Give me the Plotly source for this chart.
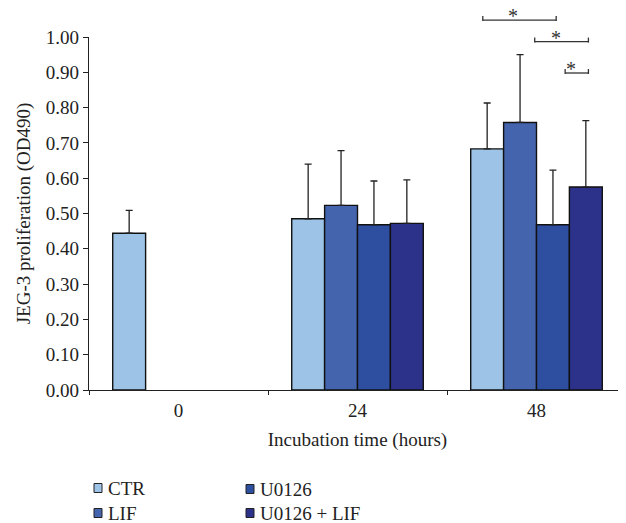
import plotly.graph_objects as go

categories = ["0", "24", "48"]
series_names = ["CTR", "LIF", "U0126", "U0126 + LIF"]
ctr = [0.444, 0.485, 0.683]
lif = [None, 0.523, 0.758]
u0126 = [None, 0.468, 0.468]
u0126_lif = [None, 0.472, 0.575]
ctr_err = [0.065, 0.155, 0.130]
lif_err = [0, 0.155, 0.192]
u0126_err = [0, 0.124, 0.155]
u0126_lif_err = [0, 0.123, 0.188]
colors = ["#9DC3E6", "#4464AE", "#2E4EA0", "#2C318A"]
y_ticks = [0.0, 0.1, 0.2, 0.3, 0.4, 0.5, 0.6, 0.7, 0.8, 0.9, 1.0]

FONT = "Liberation Serif"
FS = 19
OFF = 8  # page body margin
W, H = 626 - OFF, 523 - OFF
ML, MR, MT, MB = 89 - OFF, 0, 37 - OFF, 523 - 390
TXT = "#222222"

fig = go.Figure()
values = [ctr, lif, u0126, u0126_lif]
errs = [ctr_err, lif_err, u0126_err, u0126_lif_err]
for name, v, e, c in zip(series_names, values, errs, colors):
    fig.add_trace(go.Bar(
        x=categories, y=v, name=name,
        marker=dict(color=c, line=dict(color="#111111", width=1.4)),
        error_y=dict(type="data", symmetric=False, array=e,
                     arrayminus=[0] * len(e), color="#222222",
                     thickness=1.3, width=3.5),
        showlegend=False,
    ))

pw = W - ML - MR
ph = H - MT - MB


def px_x(px):
    # screenshot pixel -> paper x
    return (px - OFF - ML) / pw


def px_y(py):
    # screenshot pixel -> paper y
    return (H - MB - (py - OFF)) / ph


def cat_x(c):
    return (c + 0.5) / 3.0


shapes = []
annotations = []

# significance brackets (category units, y in data units == paper here)
brackets = [(1.70, 2.11, 1.048), (1.99, 2.29, 0.987), (2.16, 2.29, 0.898)]
for x0, x1, yy in brackets:
    a, b = cat_x(x0), cat_x(x1)
    shapes.append(dict(type="line", xref="paper", yref="paper", x0=a, x1=b,
                       y0=yy, y1=yy, line=dict(color="#333333", width=1.3)))
    for xe in (a, b):
        shapes.append(dict(type="line", xref="paper", yref="paper", x0=xe, x1=xe,
                           y0=yy - 1 / ph, y1=yy + 4 / ph,
                           line=dict(color="#333333", width=1.3)))
    annotations.append(dict(xref="paper", yref="paper", x=(a + b) / 2, y=yy,
                            text="*", showarrow=False, yanchor="bottom", yshift=-8,
                            borderpad=0,
                            font=dict(family=FONT, size=20, color="#333333")))

# manual legend
legend_items = [
    (series_names[0], colors[0], 94, 488),
    (series_names[1], colors[1], 94, 513),
    (series_names[2], colors[2], 246, 489),
    (series_names[3], colors[3], 246, 513),
]
for name, c, lx, ly in legend_items:
    shapes.append(dict(type="rect", xref="paper", yref="paper",
                       x0=px_x(lx), x1=px_x(lx + 8),
                       y0=px_y(ly - 4.5), y1=px_y(ly + 4.5),
                       fillcolor=c, line=dict(color="#222222", width=1)))
    annotations.append(dict(xref="paper", yref="paper", x=px_x(lx + 12), y=px_y(ly),
                            text=name, showarrow=False, xanchor="left", yanchor="middle",
                            font=dict(family=FONT, size=FS, color=TXT)))

fig.update_layout(
    width=W, height=H,
    margin=dict(l=ML, r=MR, t=MT, b=MB),
    paper_bgcolor="white", plot_bgcolor="white",
    barmode="group", bargap=0.265, bargroupgap=0,
    font=dict(family=FONT, size=FS, color=TXT),
    shapes=shapes, annotations=annotations,
    xaxis=dict(
        range=[-0.5, 2.5], showgrid=False, zeroline=False,
        showline=True, linecolor="#222222", linewidth=1.3,
        ticks="outside", ticklen=4, tickcolor="#222222", tickwidth=1.3,
        tickson="boundaries", ticklabelstandoff=3,
        tickfont=dict(family=FONT, size=FS, color=TXT),
        title=dict(text="Incubation time (hours)", standoff=12,
                   font=dict(family=FONT, size=FS, color=TXT)),
    ),
    yaxis=dict(
        range=[0, 1.0], showgrid=False, zeroline=False,
        showline=True, linecolor="#222222", linewidth=1.3,
        ticks="outside", ticklen=5, tickcolor="#222222", tickwidth=1.3,
        tickvals=y_ticks, tickformat=".2f",
        tickfont=dict(family=FONT, size=FS, color=TXT),
        title=dict(text="JEG-3 proliferation (OD490)", standoff=10,
                   font=dict(family=FONT, size=FS, color=TXT)),
    ),
)

fig.write_html("out.html")
